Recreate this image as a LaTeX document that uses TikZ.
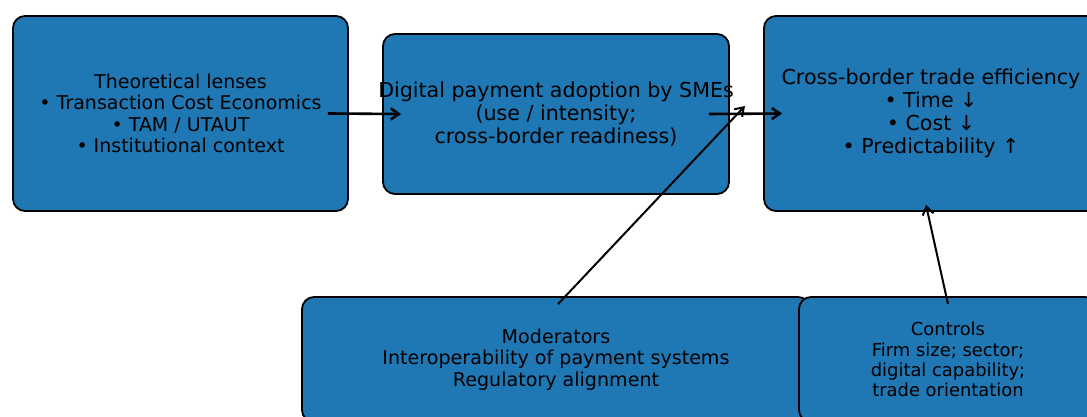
\documentclass[tikz,border=0pt]{standalone}
\usepackage{fontspec}
\setmainfont{DejaVu Sans}
\usetikzlibrary{arrows.meta}
\definecolor{boxblue}{HTML}{1F77B4}

\begin{document}
\begin{tikzpicture}[x=1pt,y=-1pt,
  box/.style={draw=black, line width=1.8pt, fill=boxblue, rounded corners=12pt,
    align=center, inner sep=0pt},
  flow/.style={-{Straight Barb[length=8pt,width=11pt]}, line width=2.6pt},
  link/.style={-{Straight Barb[length=8pt,width=11pt]}, line width=2pt}]
% canvas 1087 x 417, boxes on the right and bottom run off the edge
\clip (0,0) rectangle (1087,417);

\node[box, minimum width=335pt, minimum height=195pt,
  font=\fontsize{19}{21.5}\selectfont] (lenses) at (180.5,113.5)
  {Theoretical lenses\\ • Transaction Cost Economics\\ • TAM / UTAUT\\ • Institutional context};
% text is wider than this box, so it goes on top as its own node
\node[box, minimum width=346pt, minimum height=160pt] (adoption) at (556,114) {};
\node[align=center, inner sep=0pt, font=\fontsize{20.6}{23}\selectfont]
  (adoption text) at (adoption.center)
  {Digital payment adoption by SMEs\\ (use / intensity;\\ cross-border readiness)};
\node[box, minimum width=334pt, minimum height=195pt,
  font=\fontsize{20.6}{23}\selectfont] (efficiency) at (931,113.5)
  {Cross-border trade efficiency\\ • Time ↓\\ • Cost ↓\\ • Predictability ↑};

\node[box, minimum width=508pt, minimum height=125pt,
  font=\fontsize{19.1}{21.5}\selectfont] (moderators) at (556,359.5)
  {Moderators\\ Interoperability of payment systems\\ Regulatory alignment};
\node[box, minimum width=298pt, minimum height=125pt,
  font=\fontsize{17.9}{20.3}\selectfont] (controls) at (948,359.5)
  {Controls\\ Firm size; sector;\\ digital capability;\\ trade orientation};

% main path
\draw[flow] ([xshift=-21pt]lenses.east) -- ([xshift=19pt]adoption.west);
\draw[flow] ([xshift=-21pt]adoption.east) -- ([xshift=19pt]efficiency.west);

% moderating and control links
\draw[link] ([shift={(2,8)}]moderators.north) -- ([shift={(15,-8)}]adoption.east);
\draw[link] ([shift={(0,8)}]controls.north) -- ([shift={(-5,-7)}]efficiency.south);
\end{tikzpicture}
\end{document}
